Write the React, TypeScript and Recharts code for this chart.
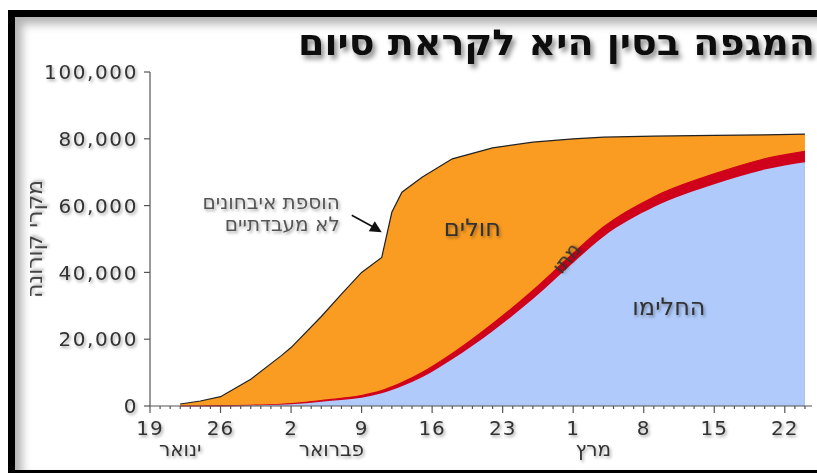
import { Area, AreaChart, ReferenceDot, XAxis, YAxis } from "recharts";

// days counted from 19 January
const days = [3, 5, 7, 10, 13, 14, 17, 19, 21, 23, 24, 25, 27, 30, 34, 38, 42, 45, 50, 56, 61, 65];
const confirmed = [600, 1500, 2800, 8000, 15000, 17500, 26800, 33500, 40000, 44500, 58000, 64000, 68500, 74000, 77300, 79000, 80000, 80500, 80800, 81000, 81200, 81400];
const recovered = [0, 0, 30, 170, 350, 500, 1300, 1800, 2500, 3800, 4800, 5900, 8600, 14000, 22400, 32000, 42900, 50700, 59600, 66400, 70800, 73000];
const deaths = [0, 0, 10, 40, 150, 200, 350, 500, 650, 800, 950, 1100, 1400, 1700, 2200, 2600, 2800, 2900, 3000, 3100, 3200, 3250];

const tickDays = [0, 7, 14, 21, 28, 35, 42, 49, 56, 63];
const tickLabels = ["19", "26", "2", "9", "16", "23", "1", "8", "15", "22"];
const months = ["ינואר", "פברואר", "מרץ"];
const monthDays = [3, 18, 44];
const yTicks = [0, 20000, 40000, 60000, 80000, 100000];

const title = "המגפה בסין היא לקראת סיום";
const yLabel = "מקרי קורונה";

const table = days.map((day, i) => ({
  day,
  confirmed: confirmed[i],
  closed: recovered[i] + deaths[i],
  recovered: recovered[i],
}));

const allDays = Array.from({ length: 66 }, (_, i) => i);

const FONT = "'DejaVu Sans', Verdana, sans-serif";
const SHADOW = "url(#textShadow)";

function DayTick(props: any) {
  const { x, y, payload } = props;
  const i = tickDays.indexOf(payload.value);
  const m = monthDays.indexOf(payload.value);
  return (
    <g>
      <line x1={x} x2={x} y1={y} y2={y + (i >= 0 ? 7 : 3)} stroke="#555" strokeWidth={1.2} />
      {i >= 0 ? (
        <text x={x} y={y + 29} textAnchor="middle" fontSize={20} letterSpacing={1} fill="#333" fontFamily={FONT} filter={SHADOW}>
          {tickLabels[i]}
        </text>
      ) : null}
      {m >= 0 ? (
        <text x={x} y={y + 50} textAnchor="middle" fontSize={20} fill="#333" fontFamily={FONT} filter={SHADOW}>
          {months[m]}
        </text>
      ) : null}
    </g>
  );
}

function ValueTick(props: any) {
  const { x, y, payload } = props;
  return (
    <text x={x} y={y} dy="0.36em" textAnchor="end" fontSize={20} letterSpacing={1.6} fill="#333" fontFamily={FONT} filter={SHADOW}>
      {Number(payload.value).toLocaleString("en-US")}
    </text>
  );
}

function TextMark({ text, size = 24, angle = 0 }: { text: string; size?: number; angle?: number }) {
  return (p: any) => (
    <text
      x={p.cx}
      y={p.cy}
      textAnchor="middle"
      dominantBaseline="central"
      fontSize={size}
      fill="#333"
      fontFamily={FONT}
      filter={SHADOW}
      transform={angle ? `rotate(${angle} ${p.cx} ${p.cy})` : undefined}
    >
      {text}
    </text>
  );
}

function ArrowNote(p: any) {
  const { cx, cy } = p;
  return (
    <g>
      <text x={cx - 43} y={cy - 23} textAnchor="end" fontSize={20} fill="#555" fontFamily={FONT} filter={SHADOW}>
        הוספת איבחונים
      </text>
      <text x={cx - 43} y={cy - 1} textAnchor="end" fontSize={20} fill="#555" fontFamily={FONT} filter={SHADOW}>
        לא מעבדתיים
      </text>
      <line x1={cx - 31} y1={cy - 17} x2={cx - 9} y2={cy - 5} stroke="#111" strokeWidth={1.6} />
      <polygon points={`${cx - 1},${cy} ${cx - 14},${cy - 1} ${cx - 8},${cy - 11}`} fill="#111" />
    </g>
  );
}

export default function App() {
  return (
    <div style={{ position: "absolute", left: 0, top: 0, width: 817, height: 473, overflow: "hidden", background: "#fff" }}>
      <div
        style={{
          position: "absolute",
          left: 8,
          top: 10,
          width: 840,
          height: 453,
          border: "7px solid #000",
          boxShadow: "inset 7px 7px 10px rgba(0,0,0,0.3)",
        }}
      />
      <svg width={817} height={473} style={{ position: "absolute", left: 0, top: 0 }}>
        <defs>
          <filter id="textShadow" x="-10%" y="-30%" width="130%" height="170%">
            <feDropShadow dx={1.5} dy={2} stdDeviation={1.5} floodColor="#000" floodOpacity={0.35} />
          </filter>
          <filter id="titleShadow" x="-10%" y="-30%" width="130%" height="180%">
            <feDropShadow dx={3} dy={4} stdDeviation={2.5} floodColor="#000" floodOpacity={0.45} />
          </filter>
        </defs>
        <text
          x={298}
          y={55}
          textLength={517}
          lengthAdjust="spacingAndGlyphs"
          fontSize={36}
          fontWeight="bold"
          fill="#111"
          fontFamily={FONT}
          filter="url(#titleShadow)"
        >
          {title}
        </text>
      </svg>
      <div style={{ position: "absolute", left: 0, top: 0 }}>
        <AreaChart width={817} height={473} data={table} margin={{ top: 72, right: 5, bottom: 7, left: 0 }}>
          <XAxis
            dataKey="day"
            type="number"
            domain={[0, 65.7]}
            ticks={allDays}
            interval={0}
            tick={<DayTick />}
            tickLine={false}
            tickSize={0}
            tickMargin={0}
            axisLine={{ stroke: "#555", strokeWidth: 1.2 }}
            height={60}
            allowDataOverflow
          />
          <YAxis
            type="number"
            domain={[0, 100000]}
            ticks={yTicks}
            width={150}
            tickSize={6}
            tickMargin={6}
            tick={<ValueTick />}
            axisLine={{ stroke: "#555", strokeWidth: 1.2 }}
            tickLine={{ stroke: "#555", strokeWidth: 1.2 }}
            label={({ viewBox }: any) => (
              <text
                x={viewBox.x + 34}
                y={viewBox.y + viewBox.height / 2}
                textAnchor="middle"
                dominantBaseline="central"
                fontSize={22}
                fill="#444"
                fontFamily={FONT}
                filter={SHADOW}
                transform={`rotate(-90 ${viewBox.x + 34} ${viewBox.y + viewBox.height / 2})`}
              >
                {yLabel}
              </text>
            )}
          />
          <Area
            dataKey="confirmed"
            type="linear"
            fill="#fa9c22"
            fillOpacity={1}
            stroke="#222"
            strokeWidth={1.2}
            isAnimationActive={false}
          />
          <Area
            dataKey="closed"
            type="monotone"
            fill="#d0021b"
            fillOpacity={1}
            stroke="#d0021b"
            strokeWidth={1.2}
            isAnimationActive={false}
          />
          <Area
            dataKey="recovered"
            type="monotone"
            fill="#b0cbfb"
            fillOpacity={1}
            stroke="none"
            isAnimationActive={false}
          />
          <ReferenceDot x={23.1} y={52000} r={0} ifOverflow="visible" shape={ArrowNote} />
          <ReferenceDot x={32} y={53300} r={0} ifOverflow="visible" shape={TextMark({ text: "חולים" })} />
          <ReferenceDot x={51.5} y={29600} r={0} ifOverflow="visible" shape={TextMark({ text: "החלימו" })} />
          <ReferenceDot x={41.3} y={44300} r={0} ifOverflow="visible" shape={TextMark({ text: "מתו", size: 20, angle: -52 })} />
        </AreaChart>
      </div>
    </div>
  );
}
